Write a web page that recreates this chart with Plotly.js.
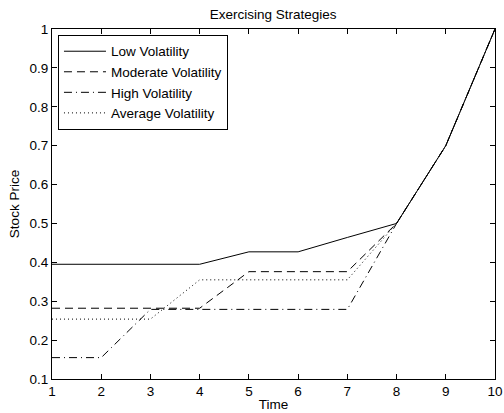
<!DOCTYPE html>
<html><head><meta charset="utf-8">
<script src="https://cdn.plot.ly/plotly-3.0.1.min.js"></script>
<style>body{margin:0;padding:0;background:#fff}#chart{width:504px;height:413px}</style>
</head><body><div id="chart"></div>
<script>
const time = [1,2,3,4,5,6,7,8,9,10];
const lowVol = [0.395,0.395,0.395,0.395,0.427,0.427,0.464,0.5,0.7,1.0];
const modVol = [0.282,0.282,0.282,0.282,0.376,0.376,0.376,0.5,0.7,1.0];
const highVol = [0.155,0.155,0.279,0.279,0.279,0.279,0.279,0.5,0.7,1.0];
const avgVol = [0.254,0.254,0.254,0.355,0.355,0.355,0.355,0.5,0.7,1.0];
const names = ["Low Volatility","Moderate Volatility","High Volatility","Average Volatility"];
const dashes = ["solid","8px,5px","8px,4px,1px,4px","1px,3px"];
const series = [lowVol, modVol, highVol, avgVol];
const traces = series.map((s,i)=>({x:time,y:s,name:names[i],mode:"lines",
  line:{color:"#000",width:1,dash:dashes[i]}}));
const font = {family:"Liberation Sans, Arial, sans-serif",size:13.5,color:"#000"};
const axisCommon = {showgrid:false,zeroline:false,showline:true,linecolor:"#000",linewidth:1,
  mirror:"ticks",ticks:"inside",ticklen:5,tickcolor:"#000",tickfont:font};
const layout = {
  width:504,height:413,paper_bgcolor:"#fff",plot_bgcolor:"#fff",font:font,
  margin:{l:52,r:9,t:29,b:34},
  title:{text:"Exercising Strategies",font:font,x:0.542,xanchor:"center",y:0.965,yanchor:"middle"},
  xaxis:Object.assign({},axisCommon,{range:[1,10],dtick:1,
    title:{text:"Time",font:font,standoff:1}}),
  yaxis:Object.assign({},axisCommon,{range:[0.1,1],dtick:0.1,tickformat:"~g",
    title:{text:"Stock Price",font:font,standoff:6}}),
  legend:{x:0.0135,y:0.983,xanchor:"left",yanchor:"top",bgcolor:"#fff",
    bordercolor:"#000",borderwidth:1,font:font,tracegroupgap:0,itemwidth:42},
  showlegend:true
};
Plotly.newPlot("chart",traces,layout,{staticPlot:true,displayModeBar:false});
</script></body></html>
